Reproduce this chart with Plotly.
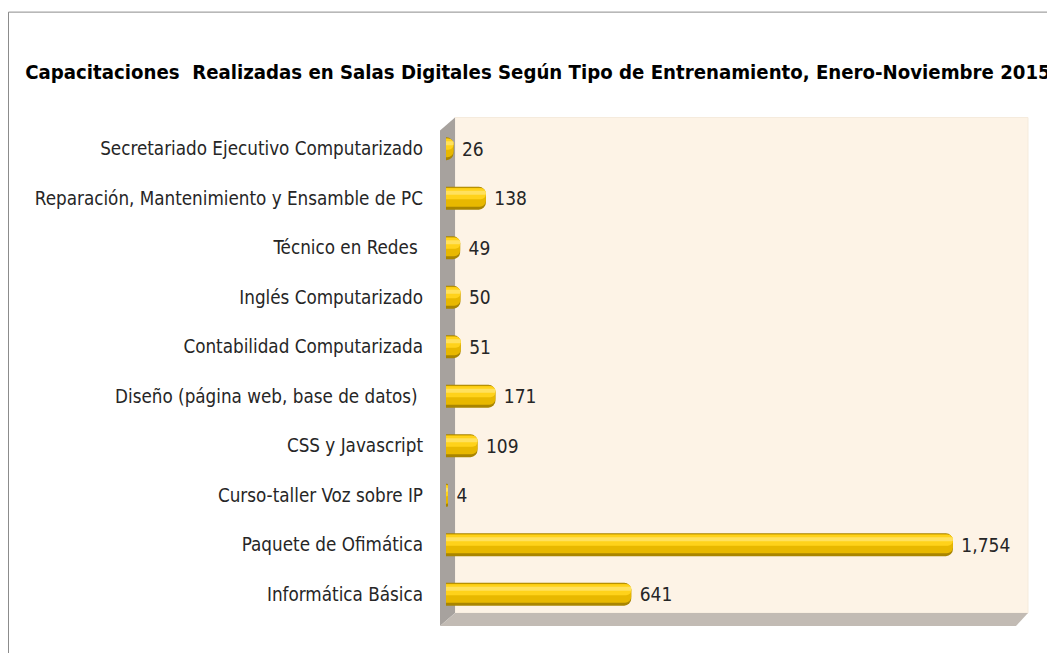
import plotly.graph_objects as go

categories = [
    "Informática Básica",
    "Paquete de Ofimática",
    "Curso-taller Voz sobre IP",
    "CSS y Javascript",
    "Diseño (página web, base de datos)\u00a0",
    "Contabilidad Computarizada",
    "Inglés Computarizado",
    "Técnico en Redes\u00a0",
    "Reparación, Mantenimiento y Ensamble de PC",
    "Secretariado Ejecutivo Computarizado",
]
values = [641, 1754, 4, 109, 171, 51, 50, 49, 138, 26]
title = "Capacitaciones  Realizadas en Salas Digitales Según Tipo de Entrenamiento, Enero-Noviembre 2015"

# page body has an 8px margin; work in screen pixels and shift
OFF = 8
W, H = 1055 - OFF, 653 - OFF
L, R = 446 - OFF, W - (1024 - OFF)
T = 123.5 - OFF
B = H - (619 - OFF)
PW, PH = W - L - R, H - T - B

def px(x):
    return (x - OFF - L) / PW

def py(y):
    return (H - B - (y - OFF)) / PH

FONT = "Liberation Sans Narrow, DejaVu Sans Condensed, Arial Narrow, sans-serif"

fig = go.Figure()

layers = [
    dict(width=0.46, offset=-0.23, color="#A98500", text=True, cr=7),
    dict(width=0.38, offset=-0.17, color="#E8B800", text=False, cr=6),
    dict(width=0.22, offset=-0.02, color="#FFD21A", text=False, cr=5),
    dict(width=0.08, offset=0.07, color="#FFE15E", text=False, cr=3),
]
for ly in layers:
    fig.add_trace(go.Bar(
        y=categories, x=values, orientation="h",
        width=ly["width"], offset=ly["offset"],
        marker=dict(color=ly["color"], line=dict(width=0), cornerradius=ly["cr"]),
        text=values if ly["text"] else None,
        texttemplate="\u00a0%{x:,}" if ly["text"] else None,
        textposition="outside" if ly["text"] else "none",
        textfont=dict(family=FONT, size=19, color="#262626"),
        cliponaxis=False, hoverinfo="skip", showlegend=False,
    ))

shapes = [
    # outer frame
    dict(type="rect", xref="paper", yref="paper", x0=px(8.5), x1=px(1080), y0=py(11.5), y1=py(690),
         line=dict(color="#8C8C8C", width=1), fillcolor="rgba(0,0,0,0)", layer="below"),
    # back wall
    dict(type="rect", xref="paper", yref="paper", x0=px(455), x1=px(1028), y0=py(117), y1=py(613),
         line=dict(color="#F5EBDD", width=1), fillcolor="#FDF3E6", layer="below"),
    # left wall
    dict(type="path", xref="paper", yref="paper",
         path=f"M {px(440)},{py(130)} L {px(455)},{py(117)} L {px(455)},{py(613)} L {px(440)},{py(626)} Z",
         line=dict(width=0), fillcolor="#A7A29E", layer="below"),
    # floor
    dict(type="path", xref="paper", yref="paper",
         path=f"M {px(440)},{py(626)} L {px(455)},{py(613)} L {px(1028)},{py(613)} L {px(1016)},{py(626)} Z",
         line=dict(width=0), fillcolor="#C2BBB4", layer="below"),
]

fig.update_layout(
    width=W, height=H,
    margin=dict(l=L, r=R, t=T, b=B),
    paper_bgcolor="white", plot_bgcolor="rgba(0,0,0,0)",
    barmode="overlay",
    shapes=shapes,
    title=dict(text=f"<b>{title}</b>", xref="container", x=(538 - OFF) / W, xanchor="center",
               yref="container", y=1 - (72 - OFF) / H, yanchor="middle",
               font=dict(family=FONT, size=20.2, color="#000000")),
    xaxis=dict(range=[0, 2000], showgrid=False, showticklabels=False, zeroline=False,
               showline=False, ticks=""),
    yaxis=dict(categoryorder="array", categoryarray=categories, showgrid=False, zeroline=False,
               showline=False, ticks="", ticklabelstandoff=22,
               tickfont=dict(family=FONT, size=18.7, color="#262626")),
)

fig.write_html("out.html")
